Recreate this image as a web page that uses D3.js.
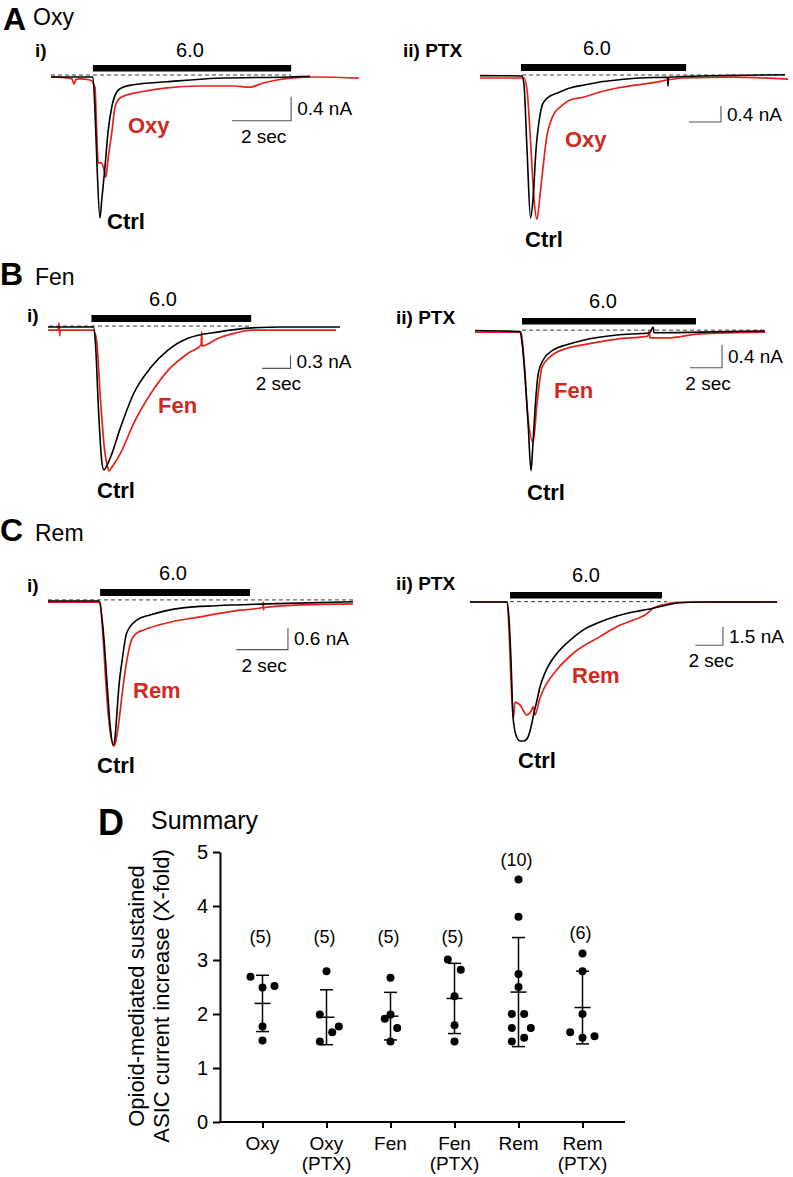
<!DOCTYPE html>
<html><head><meta charset="utf-8">
<script src="https://cdn.jsdelivr.net/npm/d3@7"></script>
<style>
body{margin:0;background:#fff;}
svg{display:block;font-family:"Liberation Sans",Arial,Helvetica,sans-serif;}
</style></head><body>
<svg id="fig" width="793" height="1177"></svg>
<script>
// ===== DATA: current traces, [time (s), current (nA)] =====
const oxyCtrl = [[0,0],[1.42,0],[1.49,-0.55],[1.56,-1.47],[1.66,-2.35],[1.72,-2.05],[1.83,-1.50],[1.93,-0.93],[2.06,-0.50],[2.23,-0.25],[2.44,-0.17],[2.78,-0.13],[3.93,-0.08],[5.63,-0.02],[8.10,0],[8.78,0.01]];
const oxyDrug = [[0.03,0],[0.71,-0.03],[0.78,-0.12],[0.85,-0.04],[0.98,-0.03],[1.32,-0.05],[1.49,-0.17],[1.55,-0.93],[1.60,-1.43],[1.71,-1.43],[1.80,-1.55],[1.86,-1.67],[1.93,-1.38],[2.06,-0.93],[2.17,-0.50],[2.34,-0.35],[2.57,-0.30],[3.02,-0.25],[3.93,-0.18],[5.05,-0.15],[6.17,-0.15],[6.75,-0.17],[7.19,-0.10],[7.66,-0.05],[8.10,-0.02],[9.02,0],[10.44,-0.02]];
const oxyPtxCtrl = [[0,0.01],[2.63,0],[2.75,-0.22],[2.94,-1.85],[3.16,-3.55],[3.31,-3.10],[3.50,-1.85],[3.75,-0.98],[3.94,-0.68],[4.38,-0.50],[4.81,-0.43],[5.63,-0.30],[6.44,-0.23],[7.50,-0.15],[8.56,-0.10],[10.0,-0.05],[11.69,-0.03],[11.72,-0.03],[11.75,-0.25],[11.78,-0.03],[13.75,0],[19.06,0.03]];
const oxyPtxDrug = [[0,-0.05],[2.75,-0.05],[2.94,-0.35],[3.19,-1.85],[3.38,-3.10],[3.56,-3.58],[3.75,-2.98],[3.94,-2.28],[4.19,-1.48],[4.38,-1.18],[4.69,-0.90],[5.00,-0.78],[5.63,-0.60],[6.44,-0.53],[7.50,-0.40],[8.56,-0.30],[10.63,-0.18],[12.69,-0.05],[15.81,-0.03],[19.25,-0.08]];
const fenCtrl = [[0,0],[3.21,0],[3.36,-0.41],[3.57,-1.89],[3.79,-3.02],[3.95,-3.25],[4.14,-3.16],[4.43,-2.95],[5.14,-2.27],[6.07,-1.50],[7.29,-0.91],[8.50,-0.52],[9.93,-0.25],[12.07,-0.11],[14.43,-0.02],[16.57,0],[20.64,0]];
const fenDrug = [[0,-0.07],[0.71,-0.07],[0.79,0.09],[0.82,-0.20],[0.86,-0.07],[3.21,-0.07],[3.43,-0.30],[3.71,-1.66],[4.00,-2.80],[4.21,-3.18],[4.31,-3.27],[4.57,-3.16],[5.14,-2.86],[6.07,-2.18],[7.29,-1.50],[8.50,-0.98],[9.93,-0.59],[10.82,-0.41],[10.86,-0.11],[10.89,-0.43],[12.07,-0.25],[13.21,-0.14],[14.43,-0.07],[20.36,-0.07]];
const fenPtxCtrl = [[0,0.01],[2.81,-0.01],[2.92,-0.16],[3.13,-0.80],[3.33,-1.67],[3.50,-2.43],[3.61,-2.02],[3.75,-1.37],[3.96,-0.73],[4.27,-0.50],[4.89,-0.33],[5.73,-0.24],[6.77,-0.16],[8.86,-0.07],[10.94,-0.03],[11.13,0.07],[11.19,-0.03],[14.06,-0.02],[18.13,0]];
const fenPtxDrug = [[0,-0.02],[2.88,-0.02],[3.06,-0.50],[3.31,-1.50],[3.63,-1.93],[3.88,-1.25],[4.19,-0.63],[4.69,-0.45],[5.75,-0.30],[6.75,-0.24],[8.88,-0.14],[10.81,-0.09],[10.88,0.00],[10.94,-0.12],[12.0,-0.12],[14.06,-0.05],[18.13,-0.02]];
const remCtrl = [[0,0],[1.98,0],[2.14,-0.81],[2.28,-2.19],[2.40,-3.39],[2.53,-4.00],[2.60,-3.78],[2.66,-3.22],[2.76,-2.28],[2.86,-1.72],[3.05,-0.89],[3.44,-0.53],[3.95,-0.39],[5.23,-0.19],[6.53,-0.13],[8.48,-0.08],[11.82,-0.02]];
const remDrug = [[0,-0.03],[1.98,-0.03],[2.02,-0.06],[2.14,-1.08],[2.28,-2.67],[2.40,-3.58],[2.56,-4.03],[2.66,-3.78],[2.72,-3.50],[2.86,-2.67],[2.98,-2.00],[3.11,-1.44],[3.24,-1.08],[3.44,-0.89],[3.69,-0.81],[4.60,-0.61],[5.89,-0.44],[7.18,-0.28],[8.33,-0.18],[8.34,-0.03],[8.36,-0.25],[8.37,-0.18],[9.77,-0.11],[11.82,-0.08]];
const remPtxCtrl = [[0,0],[2.68,0],[2.83,-1.48],[2.97,-4.75],[3.12,-9.43],[3.33,-10.90],[3.62,-11.39],[3.91,-11.39],[4.20,-11.07],[4.42,-10.25],[4.57,-9.43],[4.86,-8.03],[5.07,-6.97],[5.43,-5.82],[5.80,-5.00],[6.38,-4.10],[7.03,-3.36],[8.19,-2.30],[9.42,-1.64],[10.65,-1.15],[11.81,-0.82],[13.04,-0.57],[14.28,-0.25],[15.0,-0.08],[16.67,0],[22.25,0]];
const remPtxDrug = [[0,0],[2.70,0],[2.83,-2.30],[2.97,-6.39],[3.14,-9.51],[3.26,-8.20],[3.62,-8.44],[4.11,-9.26],[4.47,-8.85],[4.59,-8.58],[4.71,-9.26],[5.07,-7.87],[5.31,-7.21],[6.28,-5.57],[7.49,-4.20],[9.42,-2.84],[10.63,-2.02],[11.83,-1.48],[12.68,-1.07],[13.28,-0.52],[14.25,-0.16],[14.98,-0.02],[22.25,0]];

const drugNames = ["Oxy","Oxy","Fen","Fen","Rem","Rem"];
const pulseWindows = [[1.42,8.14],[2.56,12.88],[3.07,14.36],[2.94,13.81],[2.02,7.83],[2.90,13.91]];
const pulseLabels = ["6.0","6.0","6.0","6.0","6.0","6.0"];
const scaleBarNA = [0.4,0.4,0.3,0.4,0.6,1.5];
const scaleBarSec = 2;

// ===== DATA: summary (X-fold) =====
const groups = ["Oxy","Oxy (PTX)","Fen","Fen (PTX)","Rem","Rem (PTX)"];
const foldOxy = [2.69,2.49,2.52,1.77,1.51];
const foldOxyPTX = [2.79,1.99,1.77,1.66,1.49];
const foldFen = [2.67,1.99,1.91,1.74,1.49];
const foldFenPTX = [3.01,2.82,2.33,1.79,1.49];
const foldRem = [4.49,3.80,2.74,2.50,2.00,2.00,1.74,1.74,1.49,1.56];
const foldRemPTX = [3.12,2.79,2.00,1.66,1.56,1.59];
const yTicks = [0,1,2,3,4,5];

// ===== LAYOUT =====
const RED = "#e2231a", RED_TXT = "#cf2a1f";
const svg = d3.select("#fig");
svg.append("rect").attr("width",793).attr("height",1177).attr("fill","#fff");

const panels = [
 {ctrl:oxyCtrl, drug:oxyDrug, x0:51, pxs:29.5, y0:77, pxnA:60, barTop:65, barH:6.5, dash:[0,8.14,0.033], sb:[8.14,-0.33], secLbl:true,
  sub:["i)",35,57], conc:[190,57], ctrlLbl:[107,229], drugLbl:[128,133]},
 {ctrl:oxyPtxCtrl, drug:oxyPtxDrug, x0:480, pxs:16, y0:76, pxnA:40, barTop:64, barH:7, dash:[2.63,19.06,0.025], sb:[15.06,-0.75], secLbl:false,
  sub:["ii) PTX",403,57], conc:[597,55], ctrlLbl:[525,247], drugLbl:[565,147]},
 {ctrl:fenCtrl, drug:fenDrug, x0:48, pxs:14.15, y0:327, pxnA:44, barTop:315, barH:7, dash:[0.07,14.36,0.02], sb:[17.14,-0.64], secLbl:true,
  sub:["i)",27,322], conc:[163,306], ctrlLbl:[97,498], drugLbl:[158,413]},
 {ctrl:fenPtxCtrl, drug:fenPtxDrug, x0:475, pxs:16, y0:331, pxnA:57.5, barTop:318, barH:6.5, dash:[2.94,18.13,0.015], sb:[15.44,-0.24], secLbl:true,
  sub:["ii) PTX",396,324], conc:[603,308], ctrlLbl:[527,500], drugLbl:[554,398]},
 {ctrl:remCtrl, drug:remDrug, x0:48, pxs:25.8, y0:601, pxnA:36, barTop:589, barH:7, dash:[0,11.82,0.03], sb:[9.30,-0.75], secLbl:true,
  sub:["i)",27,592], conc:[173,580], ctrlLbl:[97,773], drugLbl:[133,698]},
 {ctrl:remPtxCtrl, drug:remPtxDrug, x0:470, pxs:13.8, y0:602, pxnA:12.2, barTop:592, barH:6.5, dash:[2.90,14.3,0.03], sb:[18.33,-2.05], secLbl:true,
  sub:["ii) PTX",396,590], conc:[586,582], ctrlLbl:[518,768], drugLbl:[572,683]}
];

// panel letters
const letters = [["A","Oxy",3,30,33,25],["B","Fen",0,285,35,285],["C","Rem",0,541,35,541]];
letters.forEach(l=>{
  svg.append("text").attr("x",l[2]).attr("y",l[3]).attr("font-size",32).attr("font-weight","bold").text(l[0]);
  svg.append("text").attr("x",l[4]).attr("y",l[5]).attr("font-size",23).text(l[1]);
});

panels.forEach((p,i)=>{
  const g = svg.append("g");
  const allT = p.ctrl.concat(p.drug).map(d=>d[0]);
  const tMax = d3.max(allT);
  const x = d3.scaleLinear().domain([0,tMax]).range([p.x0, p.x0 + tMax*p.pxs]);
  const y = d3.scaleLinear().domain([0,-1]).range([p.y0, p.y0 + p.pxnA]);
  const line = d3.line().x(d=>x(d[0])).y(d=>y(d[1])).curve(d3.curveMonotoneX);

  // pulse bar
  const pw = pulseWindows[i];
  g.append("rect").attr("x",x(pw[0])).attr("y",p.barTop).attr("width",x(pw[1])-x(pw[0])).attr("height",p.barH).attr("fill","#000");
  g.append("text").attr("x",p.conc[0]).attr("y",p.conc[1]).attr("text-anchor","middle").attr("font-size",20).text(pulseLabels[i]);
  g.append("text").attr("x",p.sub[1]).attr("y",p.sub[2]).attr("font-size",19).attr("font-weight","bold").text(p.sub[0]);

  // dashed baseline
  g.append("line").attr("x1",x(p.dash[0])).attr("x2",x(p.dash[1])).attr("y1",y(p.dash[2])).attr("y2",y(p.dash[2]))
    .attr("stroke","#222").attr("stroke-width",0.9).attr("stroke-dasharray","4,3");

  // traces
  g.append("path").datum(p.drug).attr("d",line).attr("fill","none").attr("stroke",RED).attr("stroke-width",1.7).attr("stroke-linejoin","round");
  g.append("path").datum(p.ctrl).attr("d",line).attr("fill","none").attr("stroke","#000").attr("stroke-width",1.6).attr("stroke-linejoin","round");

  // scale bar
  const sx = x(p.sb[0]), sTop = y(p.sb[1]), sBot = y(p.sb[1]-scaleBarNA[i]);
  const sLeft = x(p.sb[0]-scaleBarSec);
  g.append("path").attr("d",`M${sx},${sTop}V${sBot}H${sLeft}`).attr("fill","none").attr("stroke","#555").attr("stroke-width",1.1);
  g.append("text").attr("x",sx+6).attr("y",(sTop+sBot)/2).attr("dy","0.35em").attr("font-size",19).text(scaleBarNA[i]+" nA");
  if(p.secLbl) g.append("text").attr("x",(sx+sLeft)/2+2).attr("y",sBot+22).attr("text-anchor","middle").attr("font-size",19).text(scaleBarSec+" sec");

  // labels
  g.append("text").attr("x",p.drugLbl[0]).attr("y",p.drugLbl[1]).attr("font-size",22).attr("font-weight","bold").attr("fill",RED_TXT).text(drugNames[i]);
  g.append("text").attr("x",p.ctrlLbl[0]).attr("y",p.ctrlLbl[1]).attr("font-size",22).attr("font-weight","bold").text("Ctrl");
});

// ===== Panel D =====
svg.append("text").attr("x",98).attr("y",835).attr("font-size",36).attr("font-weight","bold").text("D");
svg.append("text").attr("x",151).attr("y",829).attr("font-size",25).text("Summary");

const series = [foldOxy,foldOxyPTX,foldFen,foldFenPTX,foldRem,foldRemPTX];
const jitter = [[-12,0,12,0,0],[0,-6.7,12.3,5.7,-6.7],[0,0,-5.7,6.7,0],[-6.7,6.3,0,0,0],[0,0,0,0,-6.7,5.7,-6.7,12.3,-6.7,5.7],[0,0,0,-12.3,0,12]];
const countY = [3.43,3.43,3.43,3.43,4.85,3.50];

const xD = d3.scalePoint().domain(groups).range([220,625]).padding(0.664);
const yD = d3.scaleLinear().domain([0,5]).range([1122,852]);
const gD = svg.append("g");

const yAx = gD.append("g").attr("transform","translate(220,0)")
  .call(d3.axisLeft(yD).tickValues(yTicks).tickFormat(d3.format("d")).tickSize(7).tickSizeOuter(0).tickPadding(5));
yAx.selectAll("path,line").attr("stroke","#000").attr("stroke-width",2);
yAx.selectAll("text").attr("font-size",20).attr("font-family","Liberation Sans, Arial, sans-serif").attr("fill","#000");

const xAx = gD.append("g").attr("transform","translate(0,1122)")
  .call(d3.axisBottom(xD).tickSize(6).tickSizeOuter(0).tickFormat(""));
xAx.selectAll("path,line").attr("stroke","#000").attr("stroke-width",2);
xAx.select(".domain").attr("d","M219,0H625");
groups.forEach(gname=>{
  const parts = gname.split(" ");
  const t = gD.append("text").attr("x",xD(gname)).attr("y",1150).attr("text-anchor","middle").attr("font-size",19);
  t.append("tspan").attr("x",xD(gname)).text(parts[0]);
  if(parts[1]) t.append("tspan").attr("x",xD(gname)).attr("dy",20).text(parts[1]);
});

// y label
const yl = gD.append("text").attr("font-size",22).attr("text-anchor","middle")
  .attr("transform","translate(0,996) rotate(-90)");
yl.append("tspan").attr("x",0).attr("y",144).text("Opioid-mediated sustained");
yl.append("tspan").attr("x",0).attr("y",169).text("ASIC current increase (X-fold)");

series.forEach((vals,gi)=>{
  const cx = xD(groups[gi]);
  const m = d3.mean(vals), sd = d3.deviation(vals);
  // error bar
  gD.append("line").attr("x1",cx).attr("x2",cx).attr("y1",yD(m+sd)).attr("y2",yD(m-sd)).attr("stroke","#000").attr("stroke-width",1.5);
  [m+sd,m-sd].forEach(v=>gD.append("line").attr("x1",cx-6.5).attr("x2",cx+6.5).attr("y1",yD(v)).attr("y2",yD(v)).attr("stroke","#000").attr("stroke-width",1.5));
  gD.append("line").attr("x1",cx-8).attr("x2",cx+8).attr("y1",yD(m)).attr("y2",yD(m)).attr("stroke","#000").attr("stroke-width",1.5);
  // dots
  vals.forEach((v,k)=>{
    gD.append("circle").attr("cx",cx+jitter[gi][k]).attr("cy",yD(v)).attr("r",4).attr("fill","#000");
  });
  gD.append("text").attr("x",cx-2).attr("y",yD(countY[gi])).attr("dy","0.35em").attr("text-anchor","middle").attr("font-size",18).text("("+vals.length+")");
});
</script>
</body></html>
